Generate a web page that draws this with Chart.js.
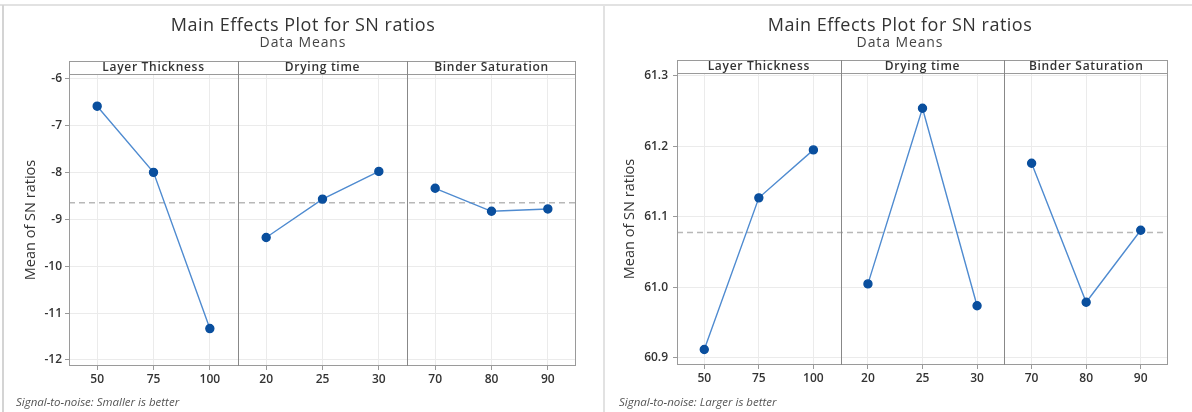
<!DOCTYPE html>
<html>
<head>
<meta charset="utf-8">
<script src="https://cdn.jsdelivr.net/npm/chart.js@4.4.1/dist/chart.umd.min.js"></script>
<style>
  body { margin: 0; background: #fff; font-family: "Open Sans", sans-serif; }
  #wrap { position: relative; width: 1192px; height: 412px; overflow: hidden; }
  .line { position: absolute; background: #e2e2e2; }
  .title { position: absolute; width: 400px; text-align: center; color: #333; font-size: 18px; line-height: 22px; letter-spacing: 0.5px; }
  .sub { position: absolute; width: 400px; text-align: center; color: #444; font-size: 14px; line-height: 16px; letter-spacing: 0.9px; }
  .note { position: absolute; color: #555; font-size: 11.5px; font-style: italic; line-height: 14px; }
  canvas { position: absolute; top: 0; }
</style>
</head>
<body>
<div id="wrap">
  <div class="line" style="left:0;top:4px;width:1192px;height:2px"></div>
  <div class="line" style="left:2px;top:5px;width:2px;height:407px;background:#d4d4d4"></div>
  <div class="line" style="left:603px;top:5px;width:2px;height:407px"></div>

  <canvas id="left" width="604" height="412" style="left:0"></canvas>
  <canvas id="right" width="586" height="412" style="left:606px"></canvas>

  <div class="title" style="left:103px;top:13px">Main Effects Plot for SN ratios</div>
  <div class="sub" style="left:103px;top:34px">Data Means</div>
  <div class="title" style="left:700px;top:13px">Main Effects Plot for SN ratios</div>
  <div class="sub" style="left:700px;top:34px">Data Means</div>

  <div class="note" style="left:16px;top:395px">Signal-to-noise: Smaller is better</div>
  <div class="note" style="left:619px;top:395px">Signal-to-noise: Larger is better</div>
</div>

<script>
// Factors and their levels
const factors = ["Layer Thickness", "Drying time", "Binder Saturation"];
const layerLevels = ["50", "75", "100"];
const dryingLevels = ["20", "25", "30"];
const binderLevels = ["70", "80", "90"];

// Smaller is better (left plot)
const smallerLayer = [-6.59, -8.00, -11.33];
const smallerDrying = [-9.39, -8.57, -7.98];
const smallerBinder = [-8.34, -8.83, -8.78];
const smallerMean = -8.65;

// Larger is better (right plot)
const largerLayer = [60.912, 61.127, 61.195];
const largerDrying = [61.005, 61.254, 60.974];
const largerBinder = [61.176, 60.979, 61.081];
const largerMean = 61.078;

const labels = [...layerLevels, ...dryingLevels, ...binderLevels];

// one dataset per factor, nulls outside its panel
function buildDatasets(groups) {
  return groups.map((vals, i) => ({
    data: labels.map((_, j) => Math.floor(j / 3) === i ? vals[j % 3] : null),
    borderColor: "#4f8bd0",
    borderWidth: 1.4,
    pointBackgroundColor: "#0a4f9e",
    pointBorderColor: "#0a4f9e",
    pointRadius: 4,
    pointHoverRadius: 4,
    spanGaps: false,
    tension: 0
  }));
}

// panels, header strip, mean line
const panelFrame = {
  id: "panelFrame",
  beforeDatasetsDraw(chart, args, opts) {
    const { ctx, chartArea: a, scales: { y } } = chart;
    const ym = y.getPixelForValue(opts.mean);
    ctx.save();
    ctx.strokeStyle = "#b8b8b8";
    ctx.lineWidth = 1.5;
    ctx.setLineDash([6, 4]);
    ctx.beginPath();
    ctx.moveTo(a.left, ym);
    ctx.lineTo(a.right, ym);
    ctx.stroke();
    ctx.restore();
  },
  afterDraw(chart, args, opts) {
    const { ctx, chartArea: a, scales: { x } } = chart;
    const top = a.top - 13;
    const cuts = [a.left,
      (x.getPixelForValue(2) + x.getPixelForValue(3)) / 2,
      (x.getPixelForValue(5) + x.getPixelForValue(6)) / 2,
      a.right];
    ctx.save();
    ctx.fillStyle = "#fff";
    ctx.fillRect(a.left, top, a.right - a.left, 13);
    ctx.strokeStyle = "#9a9a9a";
    ctx.lineWidth = 1;
    ctx.strokeRect(a.left + 0.5, top + 0.5, a.right - a.left - 1, a.bottom - top - 1);
    ctx.beginPath();
    ctx.moveTo(a.left, a.top + 0.5);
    ctx.lineTo(a.right, a.top + 0.5);
    ctx.stroke();
    ctx.strokeStyle = "#888";
    ctx.beginPath();
    [cuts[1], cuts[2]].forEach(cx => {
      ctx.moveTo(Math.round(cx) + 0.5, top);
      ctx.lineTo(Math.round(cx) + 0.5, a.bottom);
    });
    ctx.stroke();
    ctx.fillStyle = "#333";
    ctx.font = "600 12px 'Open Sans'";
    ctx.letterSpacing = "0.7px";
    ctx.textAlign = "center";
    ctx.textBaseline = "middle";
    factors.forEach((f, i) => ctx.fillText(f, (cuts[i] + cuts[i + 1]) / 2, top + 7));
    ctx.restore();
  }
};

function makeChart(id, groups, mean, yMin, yMax, decimals, pad, yWidth, tickPad) {
  return new Chart(document.getElementById(id), {
    type: "line",
    data: { labels: labels, datasets: buildDatasets(groups) },
    plugins: [panelFrame],
    options: {
      responsive: false,
      animation: false,
      layout: { padding: pad },
      plugins: {
        legend: { display: false },
        tooltip: { enabled: false },
        panelFrame: { mean: mean }
      },
      scales: {
        x: {
          offset: true,
          grid: { offset: false, color: "#ebebeb", tickColor: "#999", tickLength: 4 },
          border: { display: false },
          ticks: { color: "#333", padding: 2, font: { family: "Open Sans", size: 12, weight: "600" } },
          afterFit: s => { s.height = 24; }
        },
        y: {
          min: yMin,
          max: yMax,
          grid: { color: "#ebebeb", tickColor: "#999", tickLength: 4 },
          border: { display: false },
          ticks: {
            stepSize: decimals ? 0.1 : 1,
            includeBounds: false,
            color: "#333",
            padding: tickPad,
            font: { family: "Open Sans", size: 12, weight: "600" },
            callback: v => decimals ? v.toFixed(1) : String(Math.round(v))
          },
          title: {
            display: true,
            text: "Mean of SN ratios",
            color: "#333",
            font: { family: "Open Sans", size: 14.5, weight: "500" },
            padding: { top: 4, bottom: 4 }
          },
          afterFit: s => { s.width = yWidth; }
        }
      }
    }
  });
}

makeChart("left", [smallerLayer, smallerDrying, smallerBinder], smallerMean,
  -12.128, -5.904, false, { top: 74, left: 18, right: 28, bottom: 22 }, 51, 3);
makeChart("right", [largerLayer, largerDrying, largerBinder], largerMean,
  60.89, 61.304, true, { top: 73, left: 11, right: 24, bottom: 23 }, 60, 5);
</script>
</body>
</html>
